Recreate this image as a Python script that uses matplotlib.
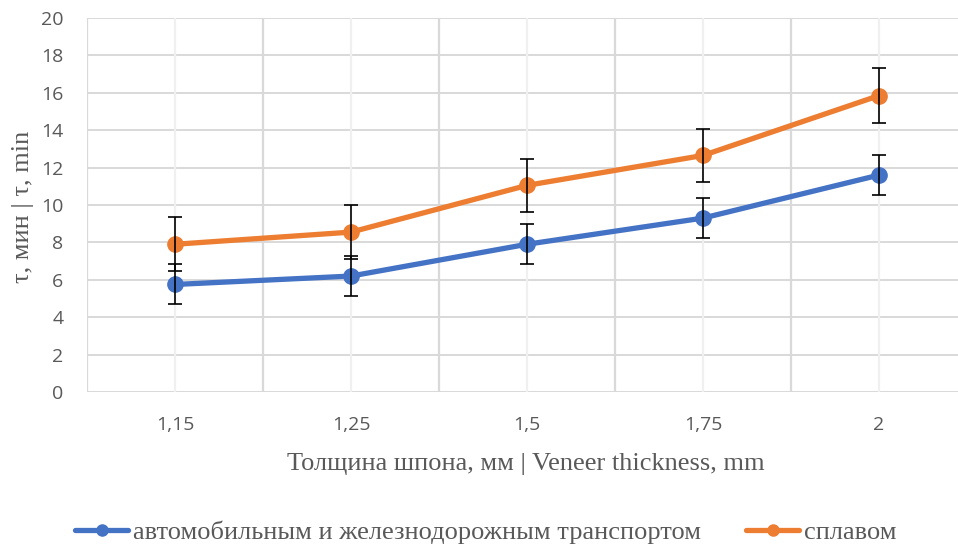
import matplotlib
matplotlib.use("Agg")
import matplotlib.pyplot as plt
import numpy as np
from matplotlib.lines import Line2D

categories = ["1,15", "1,25", "1,5", "1,75", "2"]
auto_rail = [5.75, 6.2, 7.9, 9.3, 11.6]
auto_rail_err = [1.07, 1.07, 1.07, 1.05, 1.07]
rafting = [7.9, 8.55, 11.05, 12.65, 15.85]
rafting_err = [1.45, 1.43, 1.43, 1.43, 1.47]
series_names = ["автомобильным и железнодорожным транспортом", "сплавом"]
yticks = [0, 2, 4, 6, 8, 10, 12, 14, 16, 18, 20]

W, H = 958, 547
fig = plt.figure(figsize=(W / 100, H / 100), dpi=100)
ax = fig.add_axes([87 / W, (H - 392) / H, 880 / W, (392 - 18) / H])

x = np.arange(len(categories))
blue = "#4472C4"
orange = "#ED7D31"
grid = "#d9d9d9"
tick_col = "#595959"

ax.set_xlim(-0.5, len(categories) - 0.5)
ax.set_ylim(0, 20)
ax.set_yticks(yticks)
ax.set_xticks(x)
ax.set_xticklabels(categories)

# gridlines
for yv in yticks:
    ax.axhline(yv, color=grid, lw=1.4, zorder=0)
for xv in np.arange(-0.5, len(categories), 1.0):
    ax.axvline(xv, color=grid, lw=1.6, zorder=0)
for xv in x:
    ax.axvline(xv, color="#f0f0f0", lw=1.6, zorder=0)

for s in ax.spines.values():
    s.set_visible(False)

ax.tick_params(axis="both", which="both", length=0, colors=tick_col, labelsize=14)
ax.tick_params(axis="x", pad=17)
ax.tick_params(axis="y", pad=17)
for lab in ax.get_xticklabels() + ax.get_yticklabels():
    lab.set_family("Open Sans")

ax.plot(x, auto_rail, color=blue, lw=3.8, marker="o", ms=11, zorder=3,
        solid_capstyle="round")
ax.errorbar(x, auto_rail, yerr=auto_rail_err, fmt="none", ecolor="black",
            elinewidth=1.2, capsize=5, capthick=1.2, zorder=4)
ax.plot(x, rafting, color=orange, lw=3.8, marker="o", ms=11, zorder=3,
        solid_capstyle="round")
ax.errorbar(x, rafting, yerr=rafting_err, fmt="none", ecolor="black",
            elinewidth=1.2, capsize=5, capthick=1.2, zorder=4)

ax.set_xlabel("Толщина шпона, мм | Veneer thickness, mm", family="Liberation Serif",
              fontsize=19, color=tick_col)
ax.set_ylabel("τ, мин | τ, min", family="Liberation Serif", fontsize=19,
              color=tick_col)
ax.xaxis.set_label_coords((526 - 87) / 880, -(453 - 392) / (392 - 18))
ax.yaxis.set_label_coords(-(87 - 34) / 880, (392 - 207) / (392 - 18))

h1 = Line2D([], [], color=blue, lw=3.8, marker="o", ms=8, solid_capstyle="round")
h2 = Line2D([], [], color=orange, lw=3.8, marker="o", ms=8, solid_capstyle="round")
leg = fig.legend(handles=[h1, h2], labels=series_names, loc="center",
                 bbox_to_anchor=(486 / W, 1 - 532 / H),
                 ncol=2, frameon=False, handlelength=2.0, handletextpad=0.2,
                 columnspacing=1.7,
                 prop={"family": "Liberation Serif", "size": 19})
for t in leg.get_texts():
    t.set_color(tick_col)

fig.savefig("out.png", dpi=100)
